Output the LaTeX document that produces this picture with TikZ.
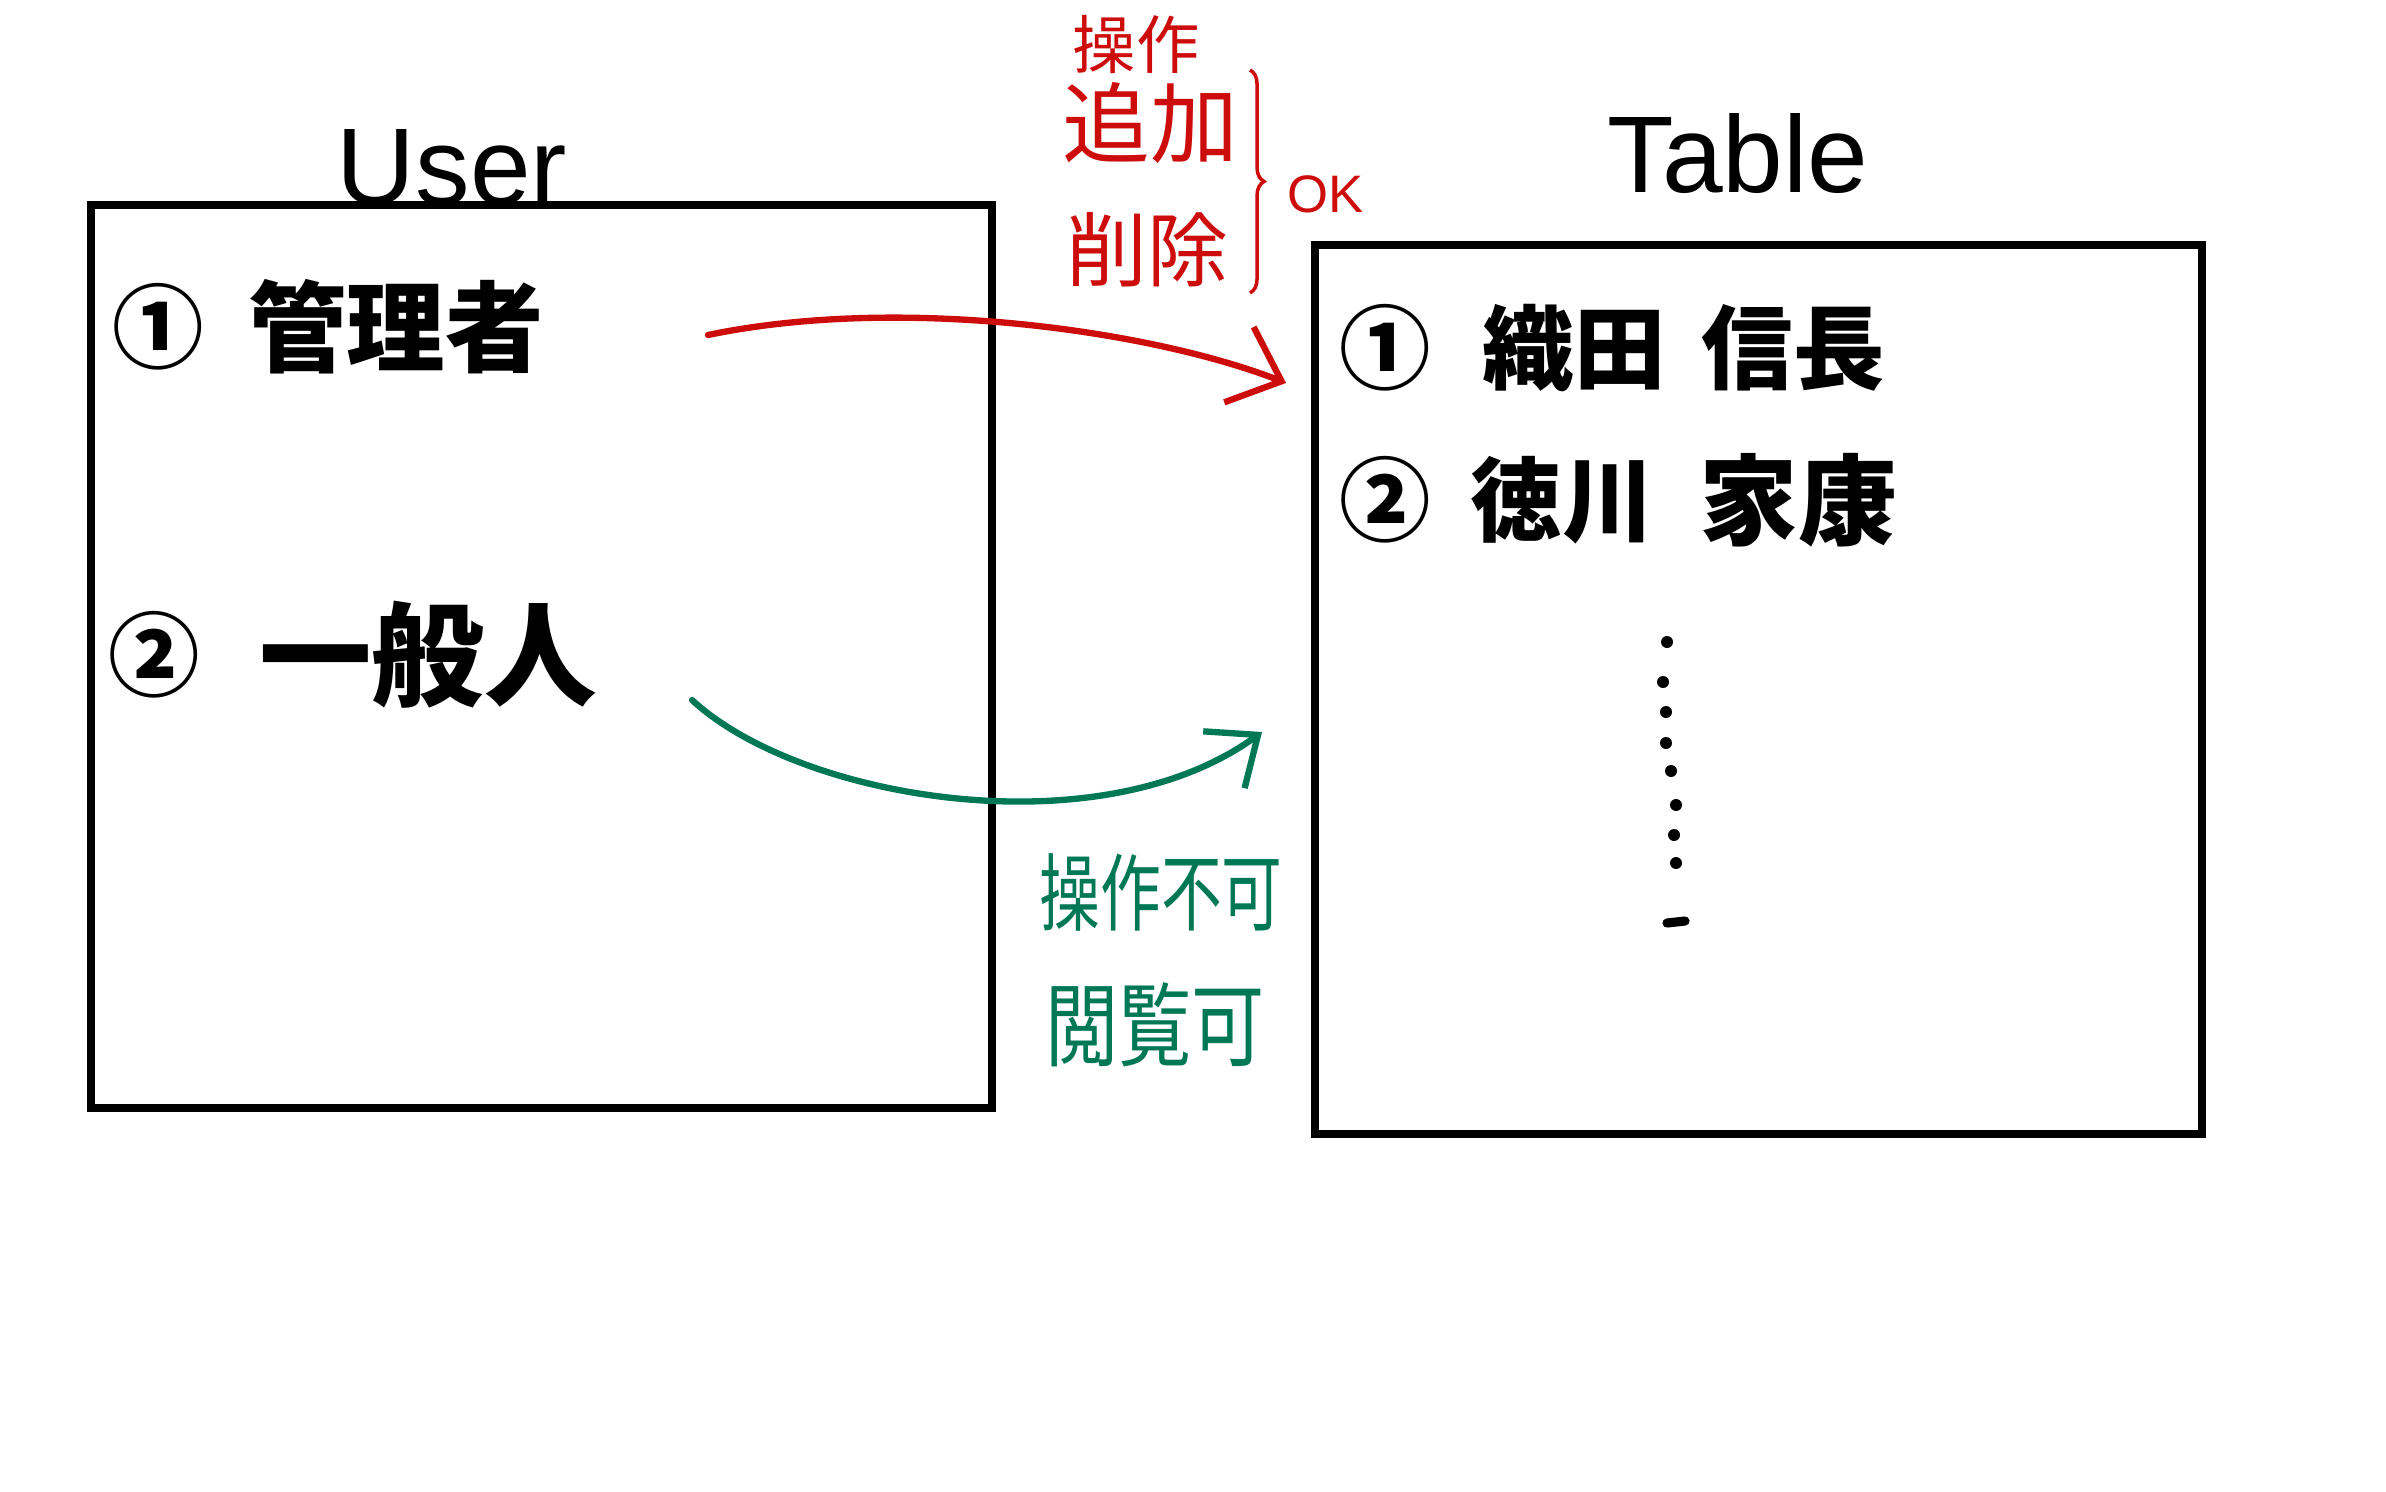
\documentclass[tikz,border=0pt]{standalone}
\usepackage{fontspec}
\setmainfont{Noto Sans CJK JP}
\newfontfamily\latinfont{Liberation Sans}
\usetikzlibrary{arrows.meta,decorations.pathreplacing}
\definecolor{inkred}{RGB}{205,12,12}
\definecolor{inkgreen}{RGB}{0,120,85}
\begin{document}
\begin{tikzpicture}[x=0.01cm,y=-0.01cm,
  box/.style={draw=black,line width=2.3pt,inner sep=0pt,fill=none},
  title/.style={font=\latinfont\fontsize{31}{36}\selectfont,inner sep=0pt},
  item/.style={font=\bfseries\fontsize{28}{32}\selectfont,inner sep=0pt},
  num/.style={font=\bfseries\fontsize{26}{30}\selectfont,inner sep=0pt},
  rednote/.style={text=inkred,inner sep=0pt},
  greennote/.style={text=inkgreen,inner sep=0pt},
  redarrow/.style={draw=inkred,line width=1.8pt,line cap=round,-{Straight Barb[length=13pt,width=23pt,line width=1.8pt]}},
  greenarrow/.style={draw=inkgreen,line width=1.8pt,line cap=round,-{Straight Barb[length=12pt,width=20pt,line width=1.8pt]}},
  dotmark/.style={fill=black,draw=none}]
\useasboundingbox (0,0) rectangle (2386,1491);
\fill[white] (0,0) rectangle (2386,1491);

% boxes
\node[box,minimum width=9.01cm,minimum height=9.03cm] (userbox) at (541.5,656.5) {};
\node[box,minimum width=8.87cm,minimum height=8.89cm] (tablebox) at (1758.5,689.5) {};

% titles
\node[title] (usertitle) at (452,168) {User};
\node[title] (tabletitle) at (1738,154) {Table};

% user items
\node[num] (u1n) at (158,327) {①};
\node[item] (u1) at (396,327) {管理者};
\node[num] (u2n) at (154,655) {②};
\node[item,font=\bfseries\fontsize{32}{36}\selectfont] (u2) at (428,655) {一般人};

% table items
\node[num] (t1n) at (1385,348) {①};
\node[item,font=\bfseries\fontsize{26}{30}\selectfont] (t1a) at (1574,348) {織田};
\node[item,font=\bfseries\fontsize{26}{30}\selectfont] (t1b) at (1793,348) {信長};
\node[num] (t2n) at (1385,500) {②};
\node[item,font=\bfseries\fontsize{26}{30}\selectfont] (t2a) at (1562,500) {徳川};
\node[item,font=\bfseries\fontsize{28}{32}\selectfont] (t2b) at (1798,500) {家康};

% vertical dots
\foreach \px/\py in {1667/642,1663/682,1666/712,1666/743,1671/771,1676/805,1674/835,1676/863}
  \fill[dotmark] (\px,\py) circle (6);
\draw[line width=2.6pt,line cap=round] (1667,923) -- (1685,921);

% red annotations
\node[rednote,font=\fontsize{18}{22}\selectfont] (redop) at (1136,44) {操作};
\node[rednote,font=\fontsize{25}{29}\selectfont] (redadd) at (1150,123) {追加};
\node[rednote,font=\fontsize{23}{27}\selectfont] (reddel) at (1147,250) {削除};
\coordinate (bracetop) at (1250,70);
\coordinate (bracebot) at (1250,293);
\draw[inkred,line width=1pt,decorate,decoration={brace,amplitude=4pt}] (bracetop) -- (bracebot);
\node[rednote,font=\latinfont\fontsize{15}{18}\selectfont] (redok) at (1326,194) {OK};

% green annotations
\node[greennote,font=\fontsize{24}{28}\selectfont,xscale=0.72] (greenop) at (1161,892) {操作不可};
\node[greennote,font=\fontsize{26}{30}\selectfont,xscale=0.8] (greenview) at (1155,1025) {閲覧可};

% arrows
\coordinate (rstart) at (708,335);
\coordinate (rend) at (1286,383);
\draw[redarrow] (rstart) .. controls (900,295) and (1150,330) .. (rend);
\coordinate (gstart) at (692,700);
\coordinate (gend) at (1262,732);
\draw[greenarrow] (gstart) .. controls (800,800) and (1100,850) .. (gend);
\end{tikzpicture}
\end{document}
